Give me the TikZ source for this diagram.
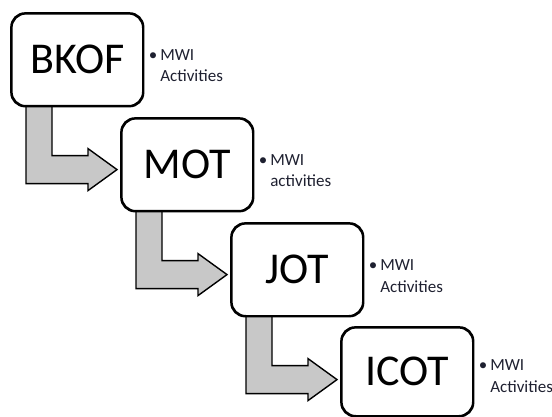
\documentclass[tikz,border=0pt]{standalone}
\usepackage{fontspec}
\setmainfont{Carlito}
\usetikzlibrary{calc}
\definecolor{arrowgray}{RGB}{200,200,200}
\definecolor{notetext}{RGB}{30,32,48}
\tikzset{
  stagebox/.style={draw=black, line width=1.6pt, rounded corners=14pt, fill=white,
    minimum width=131pt, minimum height=92pt, inner sep=0pt, anchor=north west,
    font=\fontsize{44}{50}\selectfont},
  notetxt/.style={anchor=base west, inner sep=0pt, align=left, text=notetext,
    font=\fontsize{17}{21.5}\selectfont},
  bentarrow/.style={draw=black, line width=1.4pt, fill=arrowgray, line join=miter}
}
\newcommand{\mwinote}[1]{\makebox[11.5pt][l]{\textbullet}MWI\\\hspace*{11.5pt}#1}
\begin{document}
\begin{tikzpicture}[x=1pt,y=-1pt]
\useasboundingbox (0,0) rectangle (552,417);
% boxes
\node[stagebox] (bkof) at (11,13) {BKOF};
\node[stagebox] (mot) at (121,118) {MOT};
\node[stagebox] (jot) at (231,223) {JOT};
\node[stagebox, minimum height=88pt] (icot) at (341,327) {ICOT};
% arrows
\foreach \a/\b in {bkof/mot, mot/jot, jot/icot}{
  \draw[bentarrow] ($(\a.south west)+(15,0)$) -- ($(\a.south west)+(15,77)$)
    -- ($(\a.south west)+(77,77)$) -- ($(\a.south west)+(77,84)$)
    -- ($(\b.west |- \a.south west)+(-4,63)$) -- ($(\a.south west)+(77,42)$)
    -- ($(\a.south west)+(77,49)$) -- ($(\a.south west)+(41,49)$)
    -- ($(\a.south west)+(41,0)$);
}
% redraw box borders over arrow tops
\foreach \n in {bkof,mot,jot,icot}{
  \draw[line width=1.6pt, rounded corners=14pt] (\n.south west) rectangle (\n.north east);
}
% notes
\node[notetxt] (n1) at ($(bkof.north east)+(5,69)$) {\mwinote{Activities}};
\node[notetxt] (n2) at ($(mot.north east)+(5,69)$) {\mwinote{activities}};
\node[notetxt] (n3) at ($(jot.north east)+(5,69)$) {\mwinote{Activities}};
\node[notetxt] (n4) at ($(icot.north east)+(5,65)$) {\mwinote{Activities}};
\end{tikzpicture}
\end{document}
